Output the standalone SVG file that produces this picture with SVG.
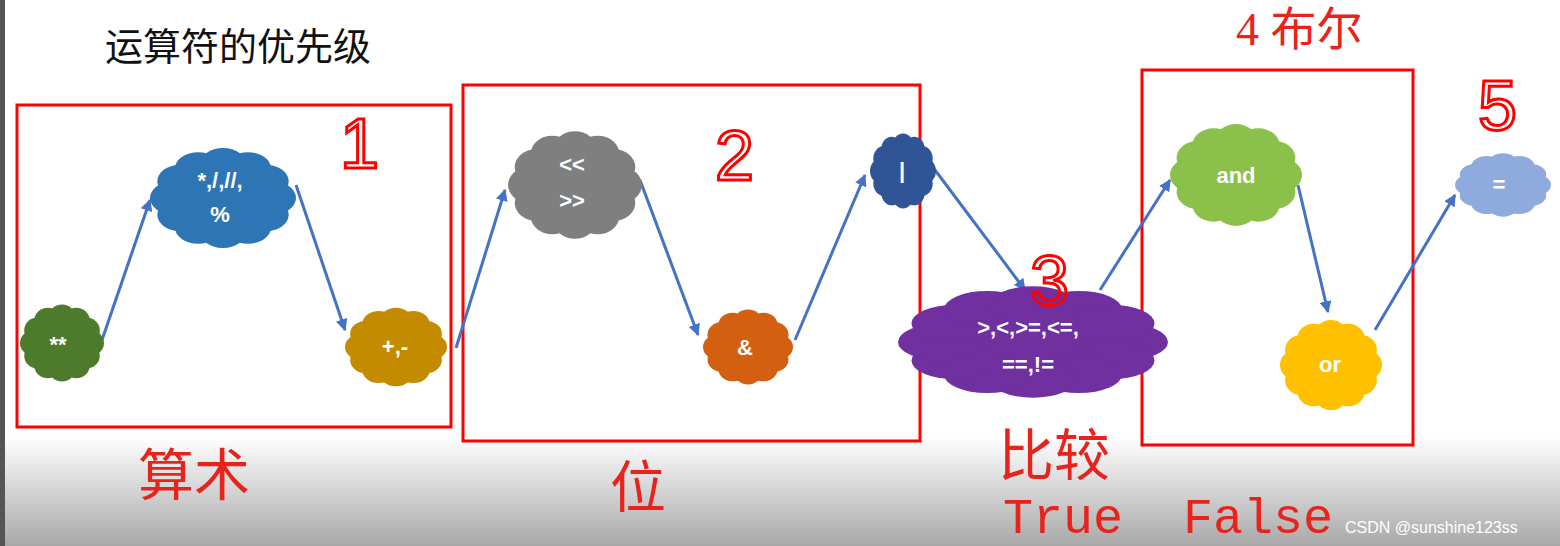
<svg xmlns="http://www.w3.org/2000/svg" xmlns:xlink="http://www.w3.org/1999/xlink" width="1560" height="546" viewBox="0 0 1560 546">
<defs>
<linearGradient id="bg" x1="0" y1="0" x2="0" y2="1">
<stop offset="0" stop-color="#ffffff"/><stop offset="0.8" stop-color="#ffffff"/><stop offset="1" stop-color="#a8a8a8"/>
</linearGradient>
<symbol id="cloud" viewBox="0 0 100 100" preserveAspectRatio="none">
<g fill="currentColor">
<ellipse cx="50" cy="50" rx="40" ry="38"/>
<circle cx="84" cy="50" r="16"/><circle cx="79" cy="66" r="16"/><circle cx="67" cy="78" r="16"/>
<circle cx="50" cy="82" r="16"/><circle cx="33" cy="78" r="16"/><circle cx="21" cy="66" r="16"/>
<circle cx="16" cy="50" r="16"/><circle cx="21" cy="34" r="16"/><circle cx="33" cy="22" r="16"/>
<circle cx="50" cy="18" r="16"/><circle cx="67" cy="22" r="16"/><circle cx="79" cy="34" r="16"/>
</g>
</symbol>
<marker id="ah" viewBox="0 0 10 10" refX="9" refY="5" markerWidth="4" markerHeight="4" orient="auto"><path d="M0,0 L10,5 L0,10 z" fill="#4472c4"/></marker>
<style>
.lbl{font-family:"Liberation Sans",Arial,sans-serif;font-size:22px;font-weight:bold;fill:#fff;text-anchor:middle}
.box{fill:none;stroke:#ff0000;stroke-width:3}
.red{fill:#e8231c}
.cjk{font-family:"Noto Sans CJK SC",serif;font-size:56px}
.mono{font-family:"Liberation Mono","DejaVu Sans Mono",monospace;font-size:50px}
.hand{font-family:"Liberation Sans",sans-serif;fill:none;stroke:#ff0000;stroke-width:3;font-size:70px}
.con line{stroke:#4472c4;stroke-width:3;marker-end:url(#ah)}
</style>
</defs>
<rect width="1560" height="546" fill="url(#bg)"/>
<rect x="0" y="0" width="5" height="546" fill="#555"/>
<text x="105" y="60" font-family="Noto Sans CJK SC,sans-serif" font-size="38" fill="#111">运算符的优先级</text>
<g id="boxes">
<rect class="box" x="17" y="105" width="434" height="322"/>
<rect class="box" x="463" y="85" width="457" height="356"/>
<rect class="box" x="1142" y="70" width="271" height="375"/>
</g>
<g class="con" id="connectors">
<line x1="102" y1="340" x2="150" y2="200"/>
<line x1="296" y1="185" x2="345" y2="330"/>
<line x1="456" y1="348" x2="505" y2="190"/>
<line x1="640" y1="180" x2="698" y2="335"/>
<line x1="795" y1="340" x2="865" y2="175"/>
<line x1="935" y1="170" x2="1025" y2="290"/>
<line x1="1100" y1="290" x2="1170" y2="180"/>
<line x1="1298" y1="185" x2="1328" y2="312"/>
<line x1="1375" y1="330" x2="1455" y2="195"/>
</g>
<g id="n1"><use xlink:href="#cloud" x="20" y="303" width="84" height="80" style="color:#4e7a2c"/><text class="lbl" x="58" y="352">**</text></g>
<g id="n2"><use xlink:href="#cloud" x="150" y="146" width="146" height="104" style="color:#2e75b6"/><text class="lbl" x="220" y="188">*,/,//,</text><text class="lbl" x="220" y="222">%</text></g>
<g id="n3"><use xlink:href="#cloud" x="345" y="306" width="102" height="82" style="color:#c48a00"/><text class="lbl" x="395" y="354">+,-</text></g>
<g id="n4"><use xlink:href="#cloud" x="508" y="129" width="134" height="112" style="color:#7f7f7f"/><text class="lbl" x="572" y="172">&lt;&lt;</text><text class="lbl" x="572" y="208">&gt;&gt;</text></g>
<g id="n5"><use xlink:href="#cloud" x="703" y="308" width="90" height="78" style="color:#d35f10"/><text class="lbl" x="745" y="355">&amp;</text></g>
<g id="n6"><use xlink:href="#cloud" x="870" y="132" width="66" height="78" style="color:#2f5597"/><text class="lbl" x="902" y="178">|</text></g>
<g id="n7"><use xlink:href="#cloud" x="898" y="284" width="270" height="116" style="color:#7030a0"/><text class="lbl" x="1028" y="335">&gt;,&lt;,&gt;=,&lt;=,</text><text class="lbl" x="1028" y="372">==,!=</text></g>
<g id="n8"><use xlink:href="#cloud" x="1170" y="122" width="132" height="106" style="color:#8bc04a"/><text class="lbl" x="1236" y="183">and</text></g>
<g id="n9"><use xlink:href="#cloud" x="1280" y="318" width="102" height="94" style="color:#ffc000"/><text class="lbl" x="1330" y="372">or</text></g>
<g id="n10"><use xlink:href="#cloud" x="1455" y="152" width="96" height="66" style="color:#8faadc"/><text class="lbl" x="1499" y="192">=</text></g>
<g id="annotations">
<text class="red cjk" x="138" y="495">算术</text>
<text class="red cjk" x="610" y="507">位</text>
<text class="red cjk" x="998" y="475">比较</text>
<text class="red mono" x="1003" y="533">True</text>
<text class="red mono" x="1183" y="533">False</text>
<text class="red" x="1236" y="45" style="font-family:'Liberation Serif','Noto Sans CJK SC',serif;font-size:46px">4 布尔</text>
<text class="hand" x="340" y="168">1</text>
<text class="hand" x="715" y="180">2</text>
<text class="hand" x="1030" y="305">3</text>
<text class="hand" x="1478" y="130">5</text>
<text x="1345" y="533" font-family="Liberation Sans,sans-serif" font-size="16" fill="#ffffff">CSDN @sunshine123ss</text>
</g>
</svg>
